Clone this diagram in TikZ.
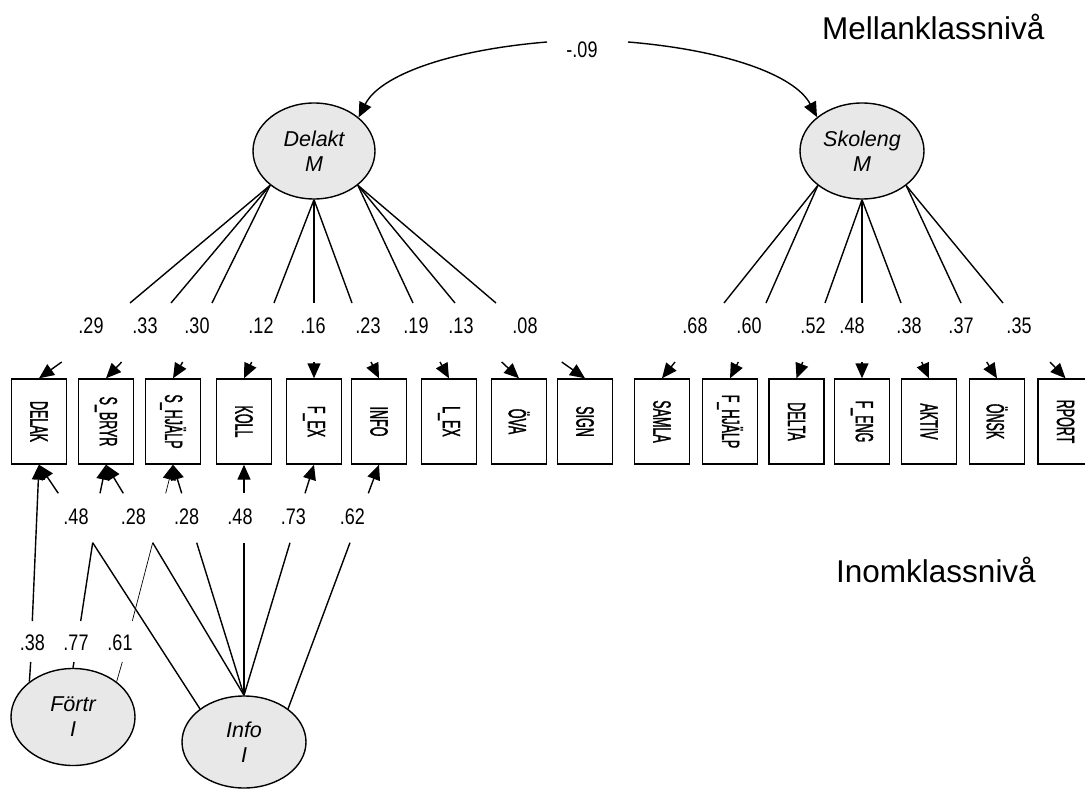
\documentclass[tikz,border=0pt]{standalone}
\usepackage{fontspec}
\setmainfont{Liberation Sans}
\newfontfamily\condfont[FakeStretch=0.5,FakeBold=1.2]{Liberation Sans}
\newfontfamily\narrowfont[FakeStretch=0.8]{Liberation Sans}
\usetikzlibrary{shapes.geometric,arrows.meta,calc}
\definecolor{latgray}{RGB}{232,232,232}
\begin{document}
\begin{tikzpicture}[x=1pt,y=-1pt,
  obsbox/.style={draw, line width=1.4pt, minimum width=55pt, minimum height=85pt, inner sep=0pt,
    font=\condfont\fontsize{25}{27}\selectfont},
  latent/.style={ellipse, draw, line width=1.4pt, fill=latgray, align=center, inner sep=0pt,
    font=\itshape\fontsize{21.5}{25}\selectfont},
  num/.style={font=\narrowfont\fontsize{22.5}{24}\selectfont, inner sep=1pt},
  heading/.style={font=\fontsize{31.5}{36}\selectfont, inner sep=0pt, anchor=base west},
  ln/.style={line width=1.4pt},
  thinln/.style={line width=0.7pt},
  arr/.style={line width=1.4pt, -{Triangle[length=15pt,width=13pt]}},
  thinarr/.style={line width=0.7pt, -{Triangle[length=15pt,width=13pt]}}]
\useasboundingbox (0,0) rectangle (1085,789);

% headings
\node[heading] (hmel) at (822,40) {Mellanklassnivå};
\node[heading] (hinom) at (836,582) {Inomklassnivå};

% latent variables
\node[latent, minimum width=122pt, minimum height=96pt] (delakt) at (314,151) {Delakt\\M};
\node[latent, minimum width=124pt, minimum height=96pt] (skoleng) at (862,151) {Skoleng\\M};
\node[latent, minimum width=124pt, minimum height=97pt] (fortr) at (73,717) {Förtr\\I};
\node[latent, minimum width=124pt, minimum height=92pt] (infol) at (244,742) {Info\\I};

% observed variables
\node[obsbox] (delak)  at (39,421.5)   {\rotatebox{-90}{DELAK}};
\node[obsbox] (sbryr)  at (106,421.5)  {\rotatebox{-90}{S\_BRYR}};
\node[obsbox] (shjalp) at (173,421.5)  {\rotatebox{-90}{S\_HJÄLP}};
\node[obsbox] (koll)   at (244,421.5)  {\rotatebox{-90}{KOLL}};
\node[obsbox] (fex)    at (314,421.5)  {\rotatebox{-90}{F\_EX}};
\node[obsbox] (infob)  at (379,421.5)  {\rotatebox{-90}{INFO}};
\node[obsbox] (lex)    at (449,421.5)  {\rotatebox{-90}{L\_EX}};
\node[obsbox] (ova)    at (519,421.5)  {\rotatebox{-90}{ÖVA}};
\node[obsbox] (sign)   at (585,421.5)  {\rotatebox{-90}{SIGN}};
\node[obsbox] (samla)  at (662,421.5)  {\rotatebox{-90}{SAMLA}};
\node[obsbox] (fhjalp) at (730,421.5)  {\rotatebox{-90}{F\_HJÄLP}};
\node[obsbox] (delta)  at (796.5,421.5){\rotatebox{-90}{DELTA}};
\node[obsbox] (feng)   at (862,421.5)  {\rotatebox{-90}{F\_ENG}};
\node[obsbox] (aktiv)  at (929,421.5)  {\rotatebox{-90}{AKTIV}};
\node[obsbox] (onsk)   at (997,421.5)  {\rotatebox{-90}{ÖNSK}};
\node[obsbox] (rport)  at (1065.5,421.5){\rotatebox{-90}{RPORT}};

% correlation
\node[num] (corr) at (582,50) {-.09};
\coordinate (cl) at (547,42);
\coordinate (cr) at (628,42);
\draw[arr] (cl) .. controls (450,50) and (380,75) .. (delakt.37);
\draw[arr] (cr) .. controls (725,50) and (795,75) .. (skoleng.143);

% Delakt loadings
\node[num] (l1) at (91,326) {.29};
\node[num] (l2) at (145,326) {.33};
\node[num] (l3) at (197,326) {.30};
\node[num] (l4) at (261,326) {.12};
\node[num] (l5) at (313,326) {.16};
\node[num] (l6) at (368,326) {.23};
\node[num] (l7) at (416,326) {.19};
\node[num] (l8) at (461,326) {.13};
\node[num] (l9) at (525,326) {.08};

\coordinate (dA1) at (130,303);   \coordinate (dB1) at (61.7,362);
\coordinate (dA2) at (171,303);   \coordinate (dB2) at (121.7,362);
\coordinate (dA3) at (212,303);   \coordinate (dB3) at (182.7,362);
\coordinate (dA4) at (274,303);   \coordinate (dB4) at (251.7,362);
\coordinate (dA5) at (314,303);   \coordinate (dB5) at (314,362);
\coordinate (dA6) at (352,303);   \coordinate (dB6) at (371,362);
\coordinate (dA7) at (413,303);   \coordinate (dB7) at (440,362);
\coordinate (dA8) at (455,303);   \coordinate (dB8) at (501.7,362);
\coordinate (dA9) at (496,303);   \coordinate (dB9) at (561.7,362);

\draw[ln] (delakt.218) -- (dA1);  \draw[arr] (dB1) -- (delak.north);
\draw[ln] (delakt.218) -- (dA2);  \draw[arr] (dB2) -- (sbryr.north);
\draw[ln] (delakt.218) -- (dA3);  \draw[arr] (dB3) -- (shjalp.north);
\draw[ln] (delakt.south) -- (dA4);  \draw[arr] (dB4) -- (koll.north);
\draw[ln] (delakt.south) -- (dA5);  \draw[arr] (dB5) -- (fex.north);
\draw[ln] (delakt.south) -- (dA6);  \draw[arr] (dB6) -- (infob.north);
\draw[ln] (delakt.322) -- (dA7);  \draw[arr] (dB7) -- (lex.north);
\draw[ln] (delakt.322) -- (dA8);  \draw[arr] (dB8) -- (ova.north);
\draw[ln] (delakt.322) -- (dA9);  \draw[arr] (dB9) -- (sign.north);

% Skoleng loadings
\node[num] (r1) at (695,326) {.68};
\node[num] (r2) at (749,326) {.60};
\node[num] (r3) at (813,326) {.52};
\node[num] (r4) at (852,326) {.48};
\node[num] (r5) at (909,326) {.38};
\node[num] (r6) at (961,326) {.37};
\node[num] (r7) at (1019,326) {.35};

\coordinate (sA1) at (724,303);   \coordinate (sB1) at (675,362);
\coordinate (sA2) at (766,303);   \coordinate (sB2) at (738.3,362);
\coordinate (sA3) at (825,303);   \coordinate (sB3) at (802.7,362);
\coordinate (sA4) at (862,303);   \coordinate (sB4) at (862,362);
\coordinate (sA5) at (901,303);   \coordinate (sB5) at (921.7,362);
\coordinate (sA6) at (961,303);   \coordinate (sB6) at (986.7,362);
\coordinate (sA7) at (1003,303);  \coordinate (sB7) at (1050,362);

\draw[ln] (skoleng.218) -- (sA1);  \draw[arr] (sB1) -- (samla.north);
\draw[ln] (skoleng.218) -- (sA2);  \draw[arr] (sB2) -- (fhjalp.north);
\draw[ln] (skoleng.south) -- (sA3);  \draw[arr] (sB3) -- (delta.north);
\draw[ln] (skoleng.south) -- (sA4);  \draw[arr] (sB4) -- (feng.north);
\draw[ln] (skoleng.south) -- (sA5);  \draw[arr] (sB5) -- (aktiv.north);
\draw[ln] (skoleng.322) -- (sA6);  \draw[arr] (sB6) -- (onsk.north);
\draw[ln] (skoleng.322) -- (sA7);  \draw[arr] (sB7) -- (rport.north);

% Info I loadings
\node[num] (b1) at (76,517) {.48};
\node[num] (b2) at (133.3,517) {.28};
\node[num] (b3) at (186.7,517) {.28};
\node[num] (b4) at (240,517) {.48};
\node[num] (b5) at (293.3,517) {.73};
\node[num] (b6) at (352.3,517) {.62};

\coordinate (iA1) at (92.7,542.7);  \coordinate (iB1) at (58.3,493.3);
\coordinate (iA2) at (152.7,542.7); \coordinate (iB2) at (123.3,493.3);
\coordinate (iA3) at (196.7,542.7); \coordinate (iB3) at (181.7,493.3);
\coordinate (iA4) at (244,542.7);   \coordinate (iB4) at (244,493.3);
\coordinate (iA5) at (290,542.7);   \coordinate (iB5) at (305,493.3);
\coordinate (iA6) at (350,542.7);   \coordinate (iB6) at (368.3,493.3);

\draw[ln] (infol.143) -- (iA1);    \draw[arr] (iB1) -- (delak.south);
\draw[ln] (infol.north) -- (iA2);  \draw[arr] (iB2) -- (sbryr.south);
\draw[ln] (infol.north) -- (iA3);  \draw[arr] (iB3) -- (shjalp.south);
\draw[ln] (infol.north) -- (iA4);  \draw[arr] (iB4) -- (koll.south);
\draw[ln] (infol.north) -- (iA5);  \draw[arr] (iB5) -- (fex.south);
\draw[ln] (infol.37) -- (iA6);     \draw[arr] (iB6) -- (infob.south);

% Förtr I loadings
\node[num] (f1) at (32.3,643) {.38};
\node[num] (f2) at (76,643) {.77};
\node[num] (f3) at (120,643) {.61};

\coordinate (fA1) at (30.7,662);  \coordinate (fB1) at (32.3,621);
\coordinate (fA2) at (74,662);    \coordinate (fB2) at (80.7,621);
\coordinate (fC2) at (92.7,542.7); \coordinate (fD2) at (100,493.3);
\coordinate (fA3) at (122.3,662); \coordinate (fB3) at (132.3,621);
\coordinate (fC3) at (152.7,542.7); \coordinate (fD3) at (165.7,493.3);

\draw[ln] (fortr.141) -- (fA1);   \draw[arr] (fB1) -- (delak.south);
\draw[ln] (fortr.north) -- (fA2); \draw[ln] (fB2) -- (fC2); \draw[arr] (fD2) -- (sbryr.south);
\draw[thinln] (fortr.39) -- (fA3); \draw[thinln] (fB3) -- (fC3); \draw[thinarr] (fD3) -- (shjalp.south);
\end{tikzpicture}
\end{document}
